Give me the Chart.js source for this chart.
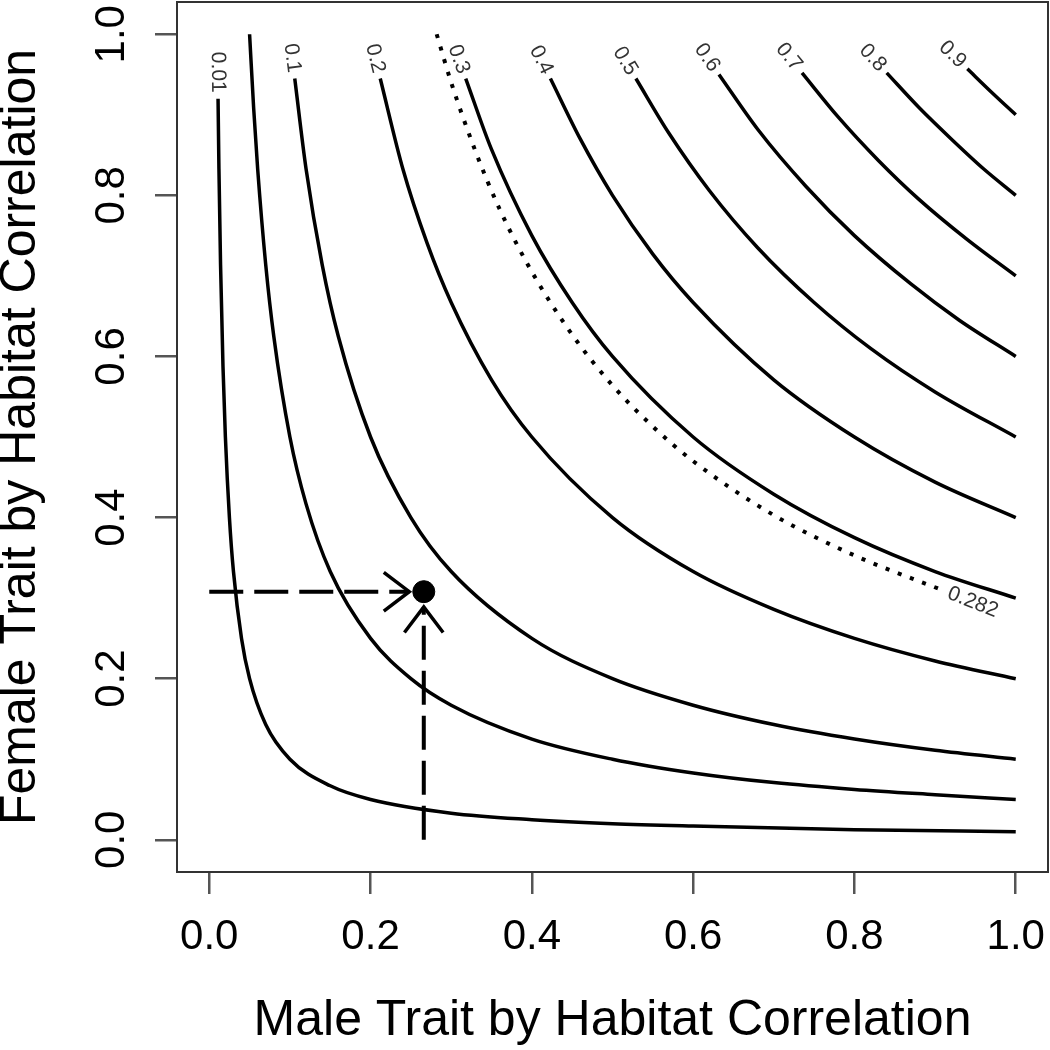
<!DOCTYPE html>
<html>
<head>
<meta charset="utf-8">
<script src="https://cdn.jsdelivr.net/npm/chart.js@4.4.1/dist/chart.umd.min.js"></script>
<style>
  html, body { margin: 0; padding: 0; background: #fff; }
  #chart { display: block; }
</style>
</head>
<body>
<canvas id="chart" width="1050" height="1050"></canvas>
<script>
var xTicks = [0, 0.2, 0.4, 0.6, 0.8, 1.0];
var yTicks = [0, 0.2, 0.4, 0.6, 0.8, 1.0];

// contour curves, points
var x001 = [0.0109, 0.012, 0.014, 0.017, 0.02, 0.025, 0.03, 0.04, 0.05, 0.07, 0.1, 0.15, 0.2, 0.3, 0.4, 0.5, 0.6, 0.8, 1.0];
var y001 = [0.92, 0.833, 0.714, 0.588, 0.5, 0.4, 0.333, 0.25, 0.2, 0.143, 0.1, 0.067, 0.05, 0.033, 0.025, 0.02, 0.017, 0.0125, 0.01];
var x005 = [0.05, 0.055, 0.06, 0.07, 0.08, 0.1, 0.12, 0.15, 0.2, 0.25, 0.3, 0.4, 0.5, 0.6, 0.7, 0.8, 0.9, 1.0];
var y005 = [1.0, 0.909, 0.833, 0.714, 0.625, 0.5, 0.417, 0.333, 0.25, 0.2, 0.167, 0.125, 0.1, 0.083, 0.071, 0.0625, 0.056, 0.05];
var x01 = [0.106, 0.12, 0.14, 0.16, 0.2, 0.25, 0.3, 0.4, 0.5, 0.6, 0.7, 0.8, 0.9, 1.0];
var y01 = [0.945, 0.833, 0.714, 0.625, 0.5, 0.4, 0.333, 0.25, 0.2, 0.167, 0.143, 0.125, 0.111, 0.1];
var x02 = [0.212, 0.24, 0.27, 0.3, 0.35, 0.4, 0.5, 0.6, 0.7, 0.8, 0.9, 1.0];
var y02 = [0.945, 0.833, 0.741, 0.667, 0.571, 0.5, 0.4, 0.333, 0.286, 0.25, 0.222, 0.2];
var x03 = [0.318, 0.35, 0.4, 0.45, 0.5, 0.6, 0.7, 0.8, 0.9, 1.0];
var y03 = [0.945, 0.857, 0.75, 0.667, 0.6, 0.5, 0.429, 0.375, 0.333, 0.3];
var x04 = [0.423, 0.46, 0.5, 0.55, 0.6, 0.7, 0.8, 0.9, 1.0];
var y04 = [0.945, 0.87, 0.8, 0.727, 0.667, 0.571, 0.5, 0.444, 0.4];
var x05 = [0.529, 0.57, 0.62, 0.68, 0.75, 0.82, 0.9, 1.0];
var y05 = [0.945, 0.877, 0.806, 0.735, 0.667, 0.61, 0.556, 0.5];
var x06 = [0.632, 0.68, 0.74, 0.8, 0.87, 0.93, 1.0];
var y06 = [0.95, 0.882, 0.811, 0.75, 0.69, 0.645, 0.6];
var x07 = [0.735, 0.78, 0.83, 0.88, 0.94, 1.0];
var y07 = [0.952, 0.897, 0.843, 0.795, 0.745, 0.7];
var x08 = [0.84, 0.88, 0.92, 0.96, 1.0];
var y08 = [0.952, 0.909, 0.87, 0.833, 0.8];
var x09 = [0.94, 0.97, 1.0];
var y09 = [0.957, 0.928, 0.9];
// dotted 0.282 curve
var x0282 = [0.282, 0.3, 0.33, 0.36, 0.4, 0.45, 0.5, 0.55, 0.6, 0.7, 0.8, 0.906];
var y0282 = [1.0, 0.94, 0.855, 0.783, 0.705, 0.627, 0.564, 0.513, 0.47, 0.403, 0.353, 0.311];

// observed point and the dashed arrows pointing at it
var pointX = [0.266];
var pointY = [0.308];
var hArrowX = [0, 0.248];
var hArrowY = [0.308, 0.308];
var vArrowX = [0.266, 0.266];
var vArrowY = [0, 0.289];

var FONT = "'Liberation Sans', Arial, sans-serif";
Chart.defaults.font.family = FONT;

function pts(xs, ys) {
    return xs.map(function (x, i) { return { x: x, y: ys[i] }; });
}

var curves = [
    { text: '0.01', xs: x001, ys: y001, at: 'start' },
    { text: '0.05', xs: x005, ys: y005, at: null },
    { text: '0.1', xs: x01, ys: y01, at: 'start' },
    { text: '0.2', xs: x02, ys: y02, at: 'start' },
    { text: '0.3', xs: x03, ys: y03, at: 'start' },
    { text: '0.4', xs: x04, ys: y04, at: 'start' },
    { text: '0.5', xs: x05, ys: y05, at: 'start' },
    { text: '0.6', xs: x06, ys: y06, at: 'start' },
    { text: '0.7', xs: x07, ys: y07, at: 'start' },
    { text: '0.8', xs: x08, ys: y08, at: 'start' },
    { text: '0.9', xs: x09, ys: y09, at: 'start' }
];

var datasets = curves.map(function (c) {
    return {
        label: c.text,
        data: pts(c.xs, c.ys),
        showLine: true,
        borderColor: '#000',
        borderWidth: 3.5,
        pointRadius: 0,
        cubicInterpolationMode: 'monotone',
        labelAt: c.at
    };
});

datasets.push({
    label: '0.282',
    data: pts(x0282, y0282),
    showLine: true,
    borderColor: '#000',
    borderWidth: 4,
    borderDash: [4, 9],
    pointRadius: 0,
    cubicInterpolationMode: 'monotone',
    labelAt: 'end'
});

datasets.push({
    label: 'h',
    data: pts(hArrowX, hArrowY),
    showLine: true,
    borderColor: '#000',
    borderWidth: 4,
    borderDash: [34, 11],
    pointRadius: 0,
    arrow: true
});
datasets.push({
    label: 'v',
    data: pts(vArrowX, vArrowY),
    showLine: true,
    borderColor: '#000',
    borderWidth: 4,
    borderDash: [34, 11],
    pointRadius: 0,
    arrow: true
});
datasets.push({
    label: 'point',
    data: pts(pointX, pointY),
    showLine: false,
    pointRadius: 11,
    backgroundColor: '#000',
    borderColor: '#000'
});

var decor = {
    id: 'decor',
    afterDatasetsDraw: function (chart) {
        var ctx = chart.ctx;
        var a = chart.chartArea;
        ctx.save();

        // box round the plot
        ctx.strokeStyle = '#333';
        ctx.lineWidth = 2;
        ctx.strokeRect(a.left, a.top, a.right - a.left, a.bottom - a.top);

        // contour labels
        ctx.fillStyle = '#333';
        ctx.font = '21px ' + FONT;
        ctx.textAlign = 'center';
        ctx.textBaseline = 'middle';
        chart.data.datasets.forEach(function (ds, i) {
            if (!ds.labelAt) return;
            var pts = chart.getDatasetMeta(i).data;
            var p0, p1, sign;
            if (ds.labelAt === 'start') {
                p0 = pts[0]; p1 = pts[1]; sign = -1;
            } else {
                p0 = pts[pts.length - 1]; p1 = pts[pts.length - 2]; sign = 1;
            }
            var dx = ds.labelAt === 'start' ? p1.x - p0.x : p0.x - p1.x;
            var dy = ds.labelAt === 'start' ? p1.y - p0.y : p0.y - p1.y;
            var len = Math.sqrt(dx * dx + dy * dy);
            var ux = dx / len, uy = dy / len;
            var w = ctx.measureText(ds.label).width;
            var off = w / 2 + (ds.labelAt === 'start' ? 6 : 9);
            var cx = p0.x + sign * ux * off;
            var cy = p0.y + sign * uy * off;
            ctx.save();
            ctx.translate(cx, cy);
            ctx.rotate(Math.atan2(uy, ux));
            ctx.fillText(ds.label, 0, 0);
            ctx.restore();
        });

        // open arrow heads
        ctx.strokeStyle = '#000';
        ctx.lineWidth = 3.5;
        ctx.setLineDash([]);
        chart.data.datasets.forEach(function (ds, i) {
            if (!ds.arrow) return;
            var pts = chart.getDatasetMeta(i).data;
            var tip = pts[pts.length - 1], prev = pts[pts.length - 2];
            var ang = Math.atan2(tip.y - prev.y, tip.x - prev.x);
            var L = 32, spread = 0.65;
            ctx.beginPath();
            ctx.moveTo(tip.x - L * Math.cos(ang - spread), tip.y - L * Math.sin(ang - spread));
            ctx.lineTo(tip.x, tip.y);
            ctx.lineTo(tip.x - L * Math.cos(ang + spread), tip.y - L * Math.sin(ang + spread));
            ctx.stroke();
        });

        // y tick labels, written along the axis
        var ys = chart.scales.y;
        ctx.fillStyle = '#000';
        ctx.font = '42px ' + FONT;
        ctx.textAlign = 'center';
        ctx.textBaseline = 'middle';
        yTicks.forEach(function (v) {
            ctx.save();
            ctx.translate(112, ys.getPixelForValue(v));
            ctx.rotate(-Math.PI / 2);
            ctx.fillText(v.toFixed(1), 0, 0);
            ctx.restore();
        });

        ctx.restore();
    }
};

function noPad(s) {
    s.paddingLeft = 0;
    s.paddingRight = 0;
    s.paddingTop = 0;
    s.paddingBottom = 0;
}

new Chart(document.getElementById('chart').getContext('2d'), {
    type: 'scatter',
    data: { datasets: datasets },
    options: {
        responsive: false,
        animation: false,
        devicePixelRatio: 1,
        layout: { autoPadding: false, padding: { top: 2, right: 2, left: 0, bottom: 0 } },
        plugins: {
            legend: { display: false },
            tooltip: { enabled: false }
        },
        scales: {
            x: {
                type: 'linear',
                min: -0.04,
                max: 1.04,
                afterBuildTicks: function (s) { s.ticks = xTicks.map(function (v) { return { value: v }; }); },
                afterFit: function (s) { s.height = 178; noPad(s); },
                border: { display: false },
                grid: { drawOnChartArea: false, drawTicks: true, tickLength: 22, color: '#555', lineWidth: 2.5 },
                ticks: {
                    color: '#000',
                    font: { size: 42, lineHeight: 1 },
                    padding: 22,
                    maxRotation: 0,
                    autoSkip: false,
                    callback: function (v) { return v.toFixed(1); }
                },
                title: {
                    display: true,
                    text: 'Male Trait by Habitat Correlation',
                    color: '#000',
                    font: { size: 50, lineHeight: 1 },
                    padding: { top: 0, bottom: 4 }
                }
            },
            y: {
                type: 'linear',
                min: -0.04,
                max: 1.04,
                afterBuildTicks: function (s) { s.ticks = yTicks.map(function (v) { return { value: v }; }); },
                afterFit: function (s) { s.width = 177; noPad(s); },
                border: { display: false },
                grid: { drawOnChartArea: false, drawTicks: true, tickLength: 22, color: '#555', lineWidth: 2.5 },
                ticks: { display: false },
                title: {
                    display: true,
                    text: 'Female Trait by Habitat Correlation',
                    color: '#000',
                    font: { size: 50, lineHeight: 1 },
                    padding: { top: -4, bottom: 0 }
                }
            }
        }
    },
    plugins: [decor]
});
</script>
</body>
</html>
